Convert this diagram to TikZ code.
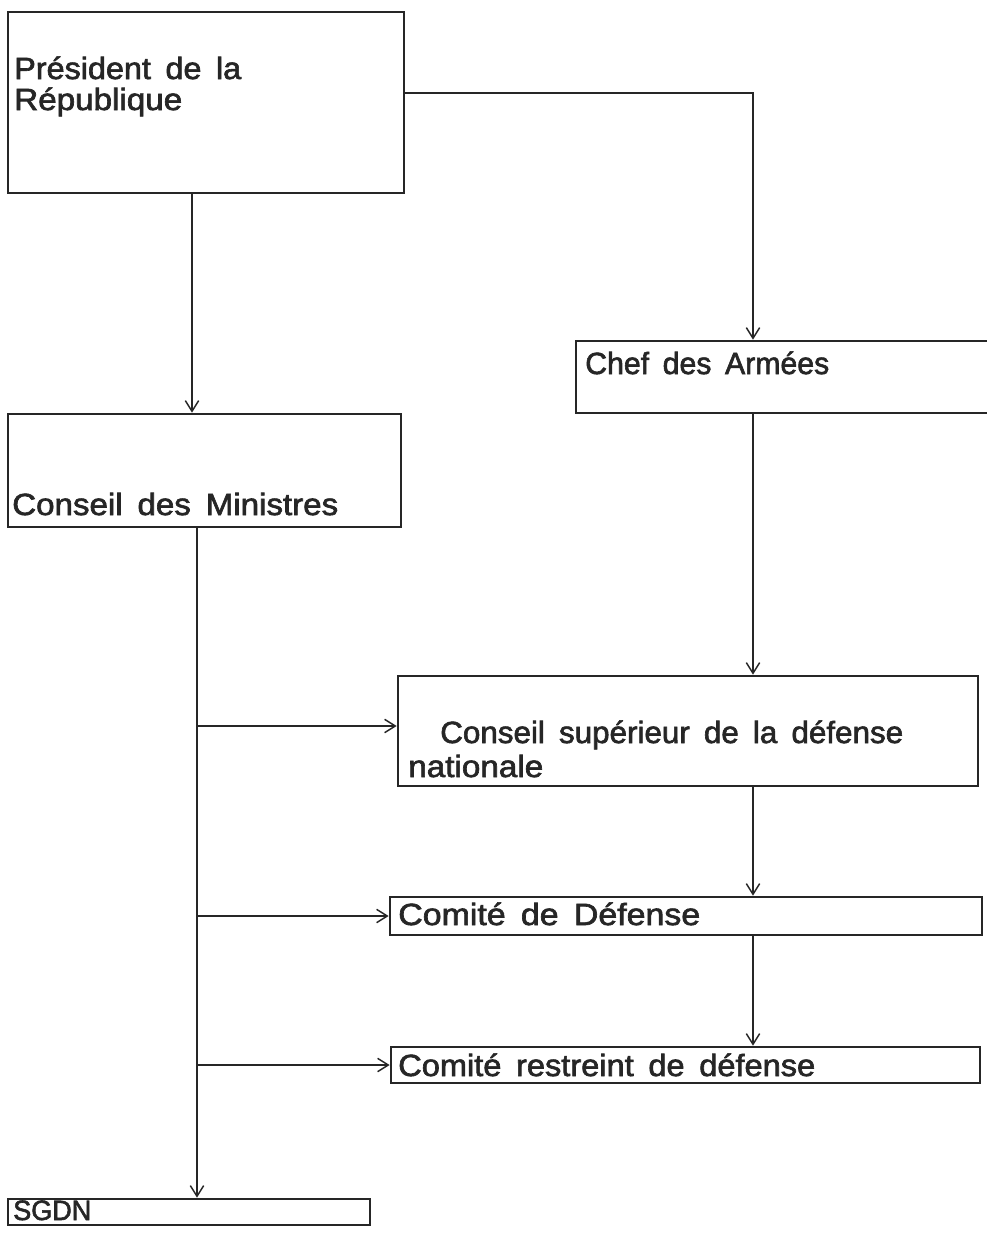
\documentclass[tikz,border=0pt]{standalone}
\usepackage{fontspec}
\setmainfont{Liberation Sans}[FakeBold=2]
\usetikzlibrary{arrows.meta,fit}
\definecolor{ink}{HTML}{262626}
\newlength\fwlen
% set #2 scaled horizontally to a width of #1 px
\newcommand{\fitw}[2]{\settowidth\fwlen{#2}\scalebox{\fpeval{#1*0.75/\fwlen}}[1]{#2}}
\newcommand{\lblfont}{\fontsize{23}{27}\selectfont\spaceskip=0.45em\relax}
\newcommand{\smallfont}{\fontsize{21}{24}\selectfont}
\begin{document}
\begin{tikzpicture}[x=0.75pt,y=-0.75pt,
  box/.style={draw=ink,line width=2pt,inner sep=0pt,rectangle},
  lbl/.style={anchor=base west,inner sep=0pt,text=ink,font=\lblfont},
  arr/.style={draw=ink,line width=1.2pt,-{Straight Barb[length=8pt,width=10pt,line width=1.1pt]}}]
\useasboundingbox[fill=white] (0,0) rectangle (987,1233);
% boxes
\node[box,fit={(8,12) (404,193)}] (pres) {};
\node[box,fit={(576,341) (1005,413)}] (chef) {};
\node[box,fit={(8,414) (401,527)}] (cm) {};
\node[box,fit={(398,676) (978,786)}] (csdn) {};
\node[box,fit={(390,897) (982,935)}] (cd) {};
\node[box,fit={(391,1047) (980,1083)}] (crd) {};
\node[box,fit={(8,1199) (370,1225)}] (sgdn) {};
% labels
\node[lbl] (t1) at (14,79) {\fitw{227}{Président de la}};
\node[lbl] (t2) at (14,110) {\fitw{168}{République}};
\node[lbl] (t3) at (585,374) {\fitw{244}{Chef des Armées}};
\node[lbl] (t4) at (12,515) {\fitw{326}{Conseil des Ministres}};
\node[lbl] (t5) at (440,743) {\fitw{463}{Conseil supérieur de la défense}};
\node[lbl] (t6) at (408,777) {\fitw{135}{nationale}};
\node[lbl] (t7) at (398,925) {\fitw{302}{Comité de Défense}};
\node[lbl] (t8) at (398,1076) {\fitw{417}{Comité restreint de défense}};
\node[lbl,font=\smallfont] (t9) at (13,1220) {\fitw{78}{SGDN}};
% connector anchors
\coordinate (lx) at (192,0);
\coordinate (rx) at (753,93);
\coordinate (sx) at (197,0);
\coordinate (cw) at ([yshift=3.75pt]csdn.west);
% connectors
\draw[arr] (lx |- pres.south) -- (lx |- cm.north);
\draw[arr] (pres.east |- rx) -- (rx) -- (rx |- chef.north);
\draw[arr] (rx |- chef.south) -- (rx |- csdn.north);
\draw[arr] (rx |- csdn.south) -- (rx |- cd.north);
\draw[arr] (rx |- cd.south) -- (rx |- crd.north);
\draw[arr] (sx |- cm.south) -- (sx |- sgdn.north);
\draw[arr] (sx |- cw) -- (cw);
\draw[arr] (sx |- cd.west) -- (cd.west);
\draw[arr] (sx |- crd.west) -- (crd.west);
\end{tikzpicture}
\end{document}
